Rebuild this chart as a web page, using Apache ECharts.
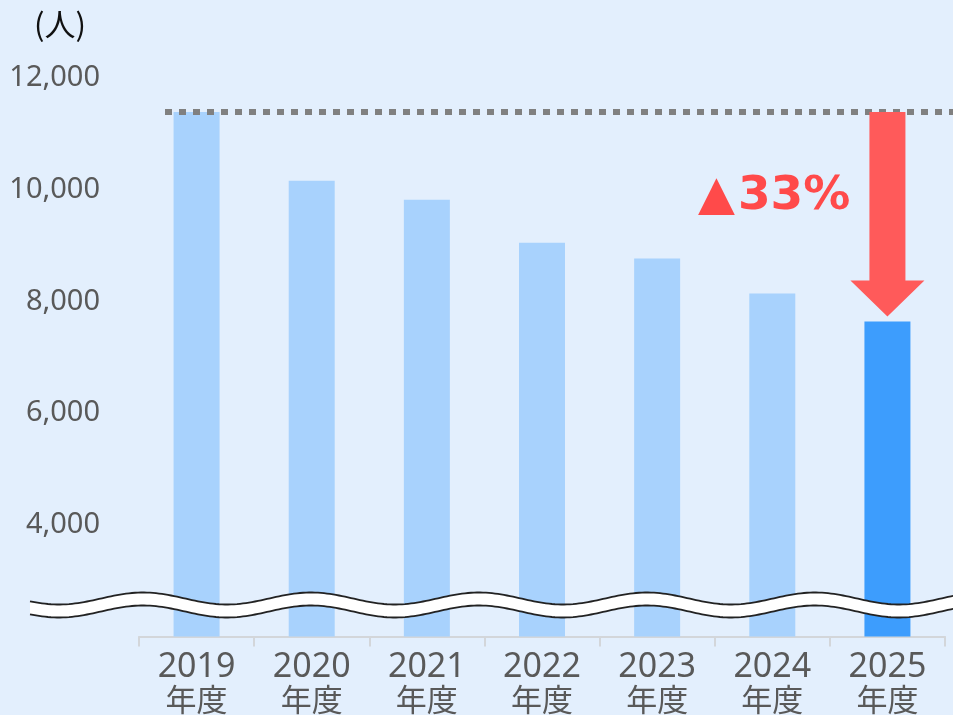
<!DOCTYPE html>
<html>
<head>
<meta charset="utf-8">
<script src="https://cdn.jsdelivr.net/npm/echarts@6/dist/echarts.min.js"></script>
<style>
  html, body { margin: 0; padding: 0; background: #e3effd; }
  #chart { width: 953px; height: 715px; }
</style>
</head>
<body>
<div id="chart"></div>
<script>
// 年度別の人数
var years = ['2019', '2020', '2021', '2022', '2023', '2024', '2025'];
var counts = [11390, 10160, 9820, 9050, 8770, 8140, 7640];
var yTicks = [2000, 4000, 6000, 8000, 10000, 12000];
var changeText = '▲33%';

var chart = echarts.init(document.getElementById('chart'));
var lastIdx = counts.length - 1;

var option = {
  backgroundColor: '#e3effd',
  animation: false,
  grid: { left: 139, right: 8, top: 78, bottom: 74 },
  xAxis: {
    type: 'category',
    data: years,
    axisLine: { show: true, lineStyle: { color: '#d3d6da', width: 2 } },
    axisTick: { show: true, length: 10, lineStyle: { color: '#d3d6da', width: 2 } },
    axisLabel: {
      margin: 14,
      formatter: function (v) { return '{y|' + v + '}\n{n|年度}'; },
      rich: {
        y: { fontSize: 34, lineHeight: 33, color: '#595959', fontFamily: 'Noto Sans' },
        n: { fontSize: 31, lineHeight: 32, color: '#595959', fontFamily: 'Noto Sans CJK JP' }
      }
    }
  },
  yAxis: {
    type: 'value',
    min: yTicks[0],
    max: yTicks[yTicks.length - 1],
    interval: 2000,
    splitLine: { show: false },
    axisLine: { show: false },
    axisTick: { show: false },
    axisLabel: {
      margin: 39,
      fontSize: 29,
      color: '#595959',
      fontFamily: 'Noto Sans',
      formatter: function (v) {
        if (v === yTicks[0]) return '';
        return v.toLocaleString('en-US');
      }
    }
  },
  series: [{
    type: 'bar',
    barWidth: 46,
    data: counts.map(function (v, i) {
      return { value: v, itemStyle: { color: i === lastIdx ? '#3d9dfd' : '#a8d2fd' } };
    }),
    markLine: {
      silent: true,
      symbol: 'none',
      label: { show: false },
      lineStyle: { color: '#808080', width: 6, type: [7, 7] },
      data: [[{ x: 165, yAxis: counts[0] }, { x: 953, yAxis: counts[0] }]]
    }
  }]
};
chart.setOption(option);

// 矢印・波線・注記
function decorate() {
  var xLast = chart.convertToPixel({ xAxisIndex: 0 }, years[lastIdx]);
  var yTop = chart.convertToPixel({ yAxisIndex: 0 }, counts[0]);
  var yEnd = chart.convertToPixel({ yAxisIndex: 0 }, counts[lastIdx]) - 5;
  var yBase = chart.convertToPixel({ yAxisIndex: 0 }, yTicks[0]);

  var sw = 18, hw = 37, hh = 36;
  var arrow = [
    [xLast - sw, yTop], [xLast + sw, yTop], [xLast + sw, yEnd - hh],
    [xLast + hw, yEnd - hh], [xLast, yEnd], [xLast - hw, yEnd - hh],
    [xLast - sw, yEnd - hh]
  ];

  // 省略を示す波線
  var waveY = yBase - 38, amp = 6, period = 168, x0 = 30, x1 = 960, gap = 13;
  var top = [], bot = [];
  for (var x = x0; x <= x1; x += 3) {
    var y = waveY - amp * Math.cos((x - 143) / period * 2 * Math.PI);
    top.push([x, y]);
    bot.push([x, y + gap]);
  }
  var band = top.concat(bot.slice().reverse());

  chart.setOption({
    graphic: [
      {
        type: 'text', left: 34, top: 9, z: 100,
        style: { text: '(人)', fontSize: 31, fill: '#111', fontFamily: 'Noto Sans CJK JP' }
      },
      {
        type: 'polygon', z: 100, silent: true,
        shape: { points: arrow },
        style: { fill: '#ff5a5a' }
      },
      {
        type: 'polygon', z: 100, silent: true,
        shape: { points: band },
        style: { fill: '#ffffff' }
      },
      {
        type: 'polyline', z: 101, silent: true,
        shape: { points: top },
        style: { stroke: '#222', lineWidth: 1.8, fill: null }
      },
      {
        type: 'polyline', z: 101, silent: true,
        shape: { points: bot },
        style: { stroke: '#222', lineWidth: 1.8, fill: null }
      },
      {
        type: 'text', x: 698, y: 197, z: 100,
        style: {
          text: '{t|' + changeText.charAt(0) + '}{p|' + changeText.slice(1) + '}',
          verticalAlign: 'middle',
          rich: {
            t: { fontSize: 48, fill: '#ff4a4a', fontFamily: 'DejaVu Sans', padding: [0, 3, 0, 0] },
            p: { fontSize: 47, fontWeight: 'bold', fill: '#ff4a4a', fontFamily: 'DejaVu Sans' }
          }
        }
      }
    ]
  });
}
decorate();
</script>
</body>
</html>
